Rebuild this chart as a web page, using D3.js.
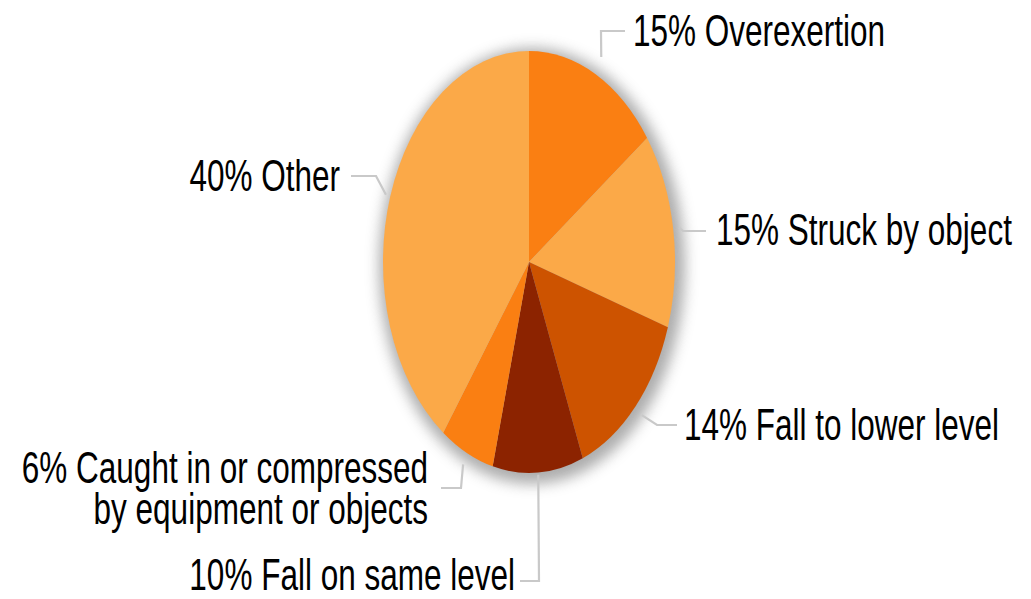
<!DOCTYPE html>
<html><head><meta charset="utf-8">
<script src="https://cdn.jsdelivr.net/npm/d3@7"></script>
<style>html,body{margin:0;padding:0;background:#fff;}svg{display:block;}</style>
</head><body>
<svg id="chart" width="1031" height="599"></svg>
<script>
// ---- data ----
const categories = ["Overexertion","Struck by object","Fall to lower level","Fall on same level","Caught in or compressed by equipment or objects","Other"];
const values = [15, 15, 14, 10, 6, 40];
const labelLines = [
  ["15% Overexertion"],
  ["15% Struck by object"],
  ["14% Fall to lower level"],
  ["10% Fall on same level"],
  ["6% Caught in or compressed","by equipment or objects"],
  ["40% Other"]
];
const colors = ["#FA7F12","#FBA948","#CD5300","#8C2300","#FA7F12","#FBA948"];

// ---- layout (label geometry) ----
const cx = 529, cy = 262, rx = 146, ry = 211;
// start radial factor, elbow point, line end x, text x, text baseline y, anchor
const labelLayout = [
  {f:1.09, ex:601, ey:31,  lx:625, tx:633, ty:46,  anchor:"start"},
  {f:1.04, ex:683, ey:231, lx:706, tx:716, ty:245, anchor:"start"},
  {f:1.06, ex:657, ey:425, lx:677, tx:684, ty:440, anchor:"start"},
  {f:1.01, ex:539, ey:581, lx:520, tx:515, ty:590, anchor:"end"},
  {f:1.06, ex:461, ey:488, lx:441, tx:428, ty:483, anchor:"end"},
  {f:1.03, ex:376, ey:176, lx:351, tx:340, ty:191, anchor:"end"}
];

const svg = d3.select("#chart");
const defs = svg.append("defs");
const filt = defs.append("filter").attr("id","shadow").attr("x","-30%").attr("y","-30%").attr("width","160%").attr("height","160%");
filt.append("feGaussianBlur").attr("stdDeviation", 7);

// shadow
svg.append("ellipse")
  .attr("cx", cx + 3).attr("cy", cy + 4)
  .attr("rx", rx + 7).attr("ry", ry + 7)
  .attr("fill", "#8a8a8a").attr("opacity", 0.7)
  .attr("filter", "url(#shadow)");

const pie = d3.pie().sort(null).value(d => d)(values);
const arc = d3.arc().innerRadius(0).outerRadius(rx);

const g = svg.append("g").attr("transform", `translate(${cx},${cy}) scale(1,${ry/rx})`);
g.selectAll("path").data(pie).join("path")
  .attr("d", arc)
  .attr("fill", (d,i) => colors[i]);

// leader lines + labels
pie.forEach((d,i) => {
  const L = labelLayout[i];
  const a = (d.startAngle + d.endAngle) / 2;
  const sx = cx + rx * L.f * Math.sin(a);
  const sy = cy - ry * L.f * Math.cos(a);
  svg.append("polyline")
    .attr("points", `${sx},${sy} ${L.ex},${L.ey} ${L.lx},${L.ey}`)
    .attr("fill","none").attr("stroke","#c9c9c9").attr("stroke-width",2.2);
  const t = svg.append("g").attr("transform", `translate(${L.tx},${L.ty}) scale(0.75,1.04)`);
  const txt = t.append("text")
      .attr("x", 0).attr("y", 0)
      .attr("text-anchor", L.anchor)
      .attr("font-family", "Liberation Sans, Arial, sans-serif")
      .attr("font-size", 42)
      .attr("fill", "#000");
  labelLines[i].forEach((line, k) => {
    txt.append("tspan").attr("x", 0).attr("y", k * 39.5).text(line);
  });
});
</script>
</body></html>
